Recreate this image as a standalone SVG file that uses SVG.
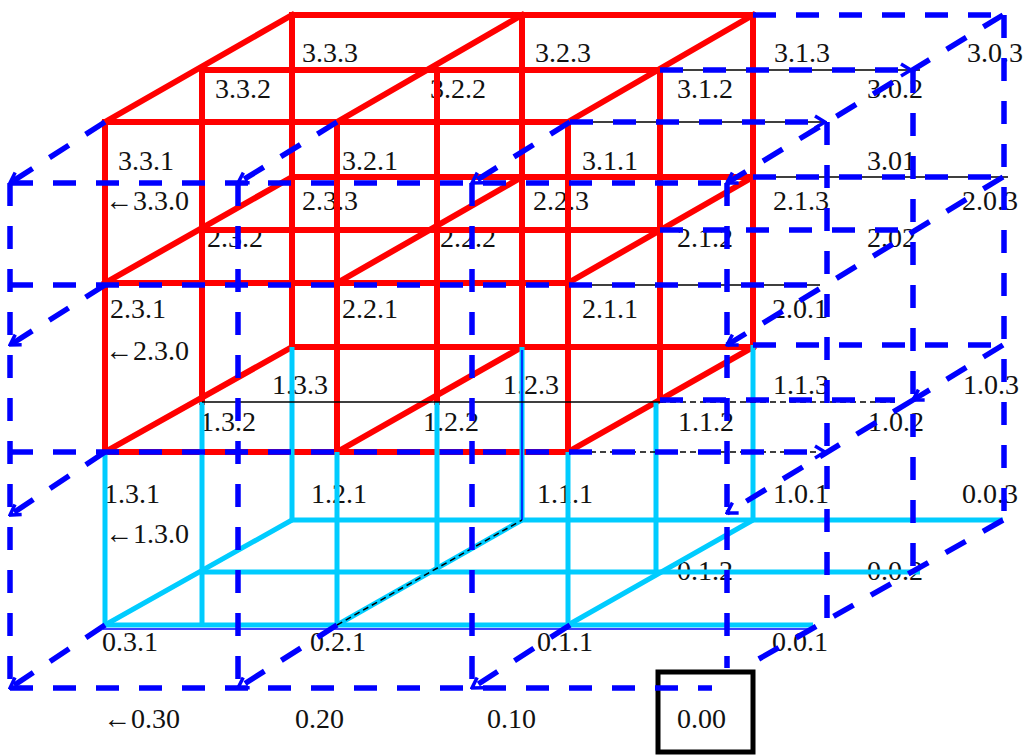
<svg xmlns="http://www.w3.org/2000/svg" width="1027" height="756" viewBox="0 0 1027 756">
<style>
text{font-family:"Liberation Serif","Times New Roman",serif;font-size:28px;fill:#111}
.r{stroke:#ff0000;stroke-width:6;fill:none;stroke-linecap:square}
.c{stroke:#00ccff;stroke-width:5;fill:none}
.b{stroke:#0000ff;stroke-width:5.5;fill:none;stroke-dasharray:23 20}
.k{stroke:#000;stroke-width:1.5;fill:none}
.kd{stroke:#000;stroke-width:1.5;fill:none;stroke-dasharray:6 4}
.tb{stroke:#0000ff;stroke-width:1.5;fill:none}
</style>
<defs>
<marker id="ah" viewBox="-12 -8 14 16" markerWidth="14" markerHeight="16" refX="0" refY="0" orient="auto" markerUnits="userSpaceOnUse">
<path d="M-10,-6 L0,0 L-10,6" stroke="#0000ff" stroke-width="3.5" fill="none" stroke-dasharray="none"/>
</marker>
</defs>
<rect width="1027" height="756" fill="#fff"/>

<g id="labels">
<g id="n333"><text x="302" y="62">3.3.3</text></g>
<g id="n323"><text x="535" y="62">3.2.3</text></g>
<g id="n313"><text x="774" y="62">3.1.3</text></g>
<g id="n303"><text x="967" y="62">3.0.3</text></g>
<g id="n332"><text x="215" y="98">3.3.2</text></g>
<g id="n322"><text x="430" y="98">3.2.2</text></g>
<g id="n312"><text x="677" y="98">3.1.2</text></g>
<g id="n302"><text x="867" y="98">3.0.2</text></g>
<g id="n331"><text x="118" y="170">3.3.1</text></g>
<g id="n321"><text x="342" y="170">3.2.1</text></g>
<g id="n311"><text x="582" y="170">3.1.1</text></g>
<g id="n301"><text x="867" y="170">3.01</text></g>
<g id="n330"><text x="105" y="210">←3.3.0</text></g>
<g id="n233"><text x="302" y="210">2.3.3</text></g>
<g id="n223"><text x="533" y="210">2.2.3</text></g>
<g id="n213"><text x="773" y="210">2.1.3</text></g>
<g id="n203"><text x="962" y="210">2.0.3</text></g>
<g id="n232"><text x="207" y="247">2.3.2</text></g>
<g id="n222"><text x="440" y="247">2.2.2</text></g>
<g id="n212"><text x="677" y="247">2.1.2</text></g>
<g id="n202"><text x="867" y="247">2.02</text></g>
<g id="n231"><text x="110" y="318">2.3.1</text></g>
<g id="n221"><text x="342" y="318">2.2.1</text></g>
<g id="n211"><text x="582" y="318">2.1.1</text></g>
<g id="n201"><text x="772" y="318">2.0.1</text></g>
<g id="n230"><text x="105" y="360">←2.3.0</text></g>
<g id="n133"><text x="272" y="394">1.3.3</text></g>
<g id="n123"><text x="503" y="394">1.2.3</text></g>
<g id="n113"><text x="773" y="394">1.1.3</text></g>
<g id="n103"><text x="963" y="394">1.0.3</text></g>
<g id="n132"><text x="200" y="431">1.3.2</text></g>
<g id="n122"><text x="423" y="431">1.2.2</text></g>
<g id="n112"><text x="678" y="431">1.1.2</text></g>
<g id="n102"><text x="868" y="431">1.0.2</text></g>
<g id="n131"><text x="104" y="503">1.3.1</text></g>
<g id="n121"><text x="311" y="503">1.2.1</text></g>
<g id="n111"><text x="537" y="503">1.1.1</text></g>
<g id="n101"><text x="773" y="503">1.0.1</text></g>
<g id="n003"><text x="962" y="503">0.0.3</text></g>
<g id="n130"><text x="105" y="543">←1.3.0</text></g>
<g id="n012"><text x="677" y="580">0.1.2</text></g>
<g id="n002"><text x="867" y="580">0.0.2</text></g>
<g id="n031"><text x="102" y="651">0.3.1</text></g>
<g id="n021"><text x="310" y="651">0.2.1</text></g>
<g id="n011"><text x="537" y="651">0.1.1</text></g>
<g id="n001"><text x="772" y="651">0.0.1</text></g>
<g id="n030"><text x="103" y="728">←0.30</text></g>
<g id="n020"><text x="295" y="728">0.20</text></g>
<g id="n010"><text x="487" y="728">0.10</text></g>
<g id="n000"><rect x="658" y="672" width="95" height="80" fill="none" stroke="#000" stroke-width="5"/><text x="677" y="728">0.00</text></g>
</g>

<g id="red-lattice">
<path class="r" d="M292,15H753M202,70H660M105,122H568M292,177H753M202,230H660M105,283H568M292,347H753M105,452H568"/>
<path class="r" d="M105,122V452M202,70V402M292,15V347M337,122V452M437,70V402M522,15V347M568,122V452M660,70V400M753,15V345"/>
<path class="r" d="M105,122L292,15M337,122L522,15M568,122L753,15M105,283L292,177M337,283L522,177M568,283L753,177M105,452L292,347M337,452L522,347M568,452L753,347"/>
</g>

<g id="cyan-lattice">
<path class="c" d="M105,452V625M202,402V625M292,347V520M337,452V625M437,402V572M522,347V520M568,452V625M656,402V572M753,345V520"/>
<path class="c" d="M292,520H1003M202,572H920M105,625H813"/>
<path class="c" d="M105,625L292,520M337,625L522,520M568,625L753,520"/>
<path class="tb" d="M103,629H813M522,350V520"/>
</g>

<g id="connectors">
<path class="k" d="M660,70H920M570,122H827M753,177H1008M570,285H820M202,402H660"/>
<path class="kd" d="M660,402H895M570,452H817M337,625L522,520"/>
<path class="b" d="M10,183V688M238,183V688M472,183V688M727,183V668M827,122V627M913,70V572M1004,15V520"/>
<path class="b" d="M753,15H1003M753,177H1003M753,345H1003M660,230H913M660,400H895M10,183H727M10,285H827M10,688H712"/>
<path class="b" marker-end="url(#ah)" d="M660,70H911"/>
<path class="b" marker-end="url(#ah)" d="M570,122H825"/>
<path class="b" marker-end="url(#ah)" d="M10,452H825"/>
<path class="b" marker-end="url(#ah)" d="M105,122L10,183"/>
<path class="b" marker-end="url(#ah)" d="M105,285L10,345"/>
<path class="b" marker-end="url(#ah)" d="M105,452L10,515"/>
<path class="b" marker-end="url(#ah)" d="M105,625L10,688"/>
<path class="b" marker-end="url(#ah)" d="M337,122L238,183"/>
<path class="b" marker-end="url(#ah)" d="M337,625L238,688"/>
<path class="b" marker-end="url(#ah)" d="M570,122L472,183"/>
<path class="b" marker-end="url(#ah)" d="M570,625L472,688"/>
<path class="b" marker-end="url(#ah)" d="M1003,15L727,183"/>
<path class="b" marker-end="url(#ah)" d="M1003,177L727,345"/>
<path class="b" marker-end="url(#ah)" d="M1003,345L913,400"/>
<path class="b" marker-end="url(#ah)" d="M913,400L727,513"/>
<path class="b" d="M1003,520L743,668"/>
</g>
</svg>
